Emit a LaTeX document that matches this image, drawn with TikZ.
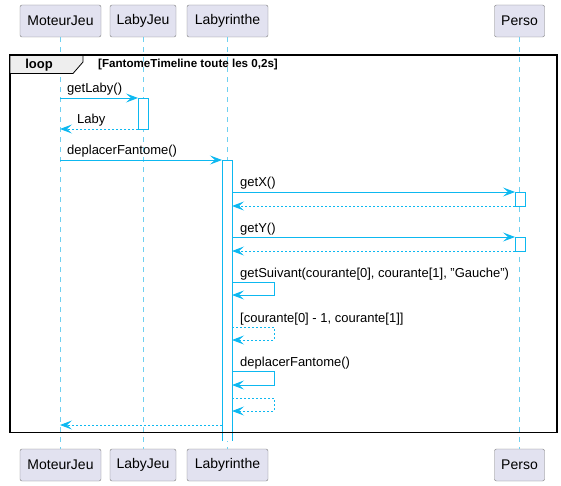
\documentclass[tikz,border=0pt]{standalone}
\usepackage{fontspec}
\setmainfont{Liberation Sans}
\usetikzlibrary{arrows.meta}
\definecolor{msgc}{HTML}{0DB8F0}
\definecolor{lifec}{HTML}{6FD0F0}
\definecolor{partfill}{HTML}{E2E2F0}
\definecolor{partdraw}{HTML}{7A7A7A}
\definecolor{tabfill}{HTML}{EEEEEE}
\tikzset{
  part/.style={draw=partdraw, fill=partfill, rounded corners=2pt, minimum height=32pt,
    inner sep=0pt, font=\fontsize{14}{16}\selectfont},
  msgline/.style={draw=msgc, line width=0.9pt, -{Stealth[length=12pt,width=9pt,inset=5pt]}},
  retline/.style={msgline, dash pattern=on 2pt off 2pt},
  act/.style={draw=msgc, fill=white, line width=0.9pt},
  lbl/.style={font=\fontsize{13}{15}\selectfont, anchor=base west, inner sep=0pt},
  life/.style={draw=lifec, dash pattern=on 5pt off 5pt, line width=0.6pt},
}
\begin{document}
\begin{tikzpicture}[x=1pt, y=-1pt]
\useasboundingbox (0,0) rectangle (561,486);

% participants, top and bottom
\node[part, minimum width=81pt] (mjT) at (60.5,21) {MoteurJeu};
\node[part, minimum width=66pt] (ljT) at (143,21) {LabyJeu};
\node[part, minimum width=81pt] (lbT) at (227.5,21) {Labyrinthe};
\node[part, minimum width=50pt] (peT) at (519.5,21) {Perso};
\node[part, minimum width=81pt] (mjB) at (60.5,465) {MoteurJeu};
\node[part, minimum width=66pt] (ljB) at (143,465) {LabyJeu};
\node[part, minimum width=81pt] (lbB) at (227.5,465) {Labyrinthe};
\node[part, minimum width=50pt] (peB) at (519.5,465) {Perso};

% lifelines
\draw[life] (mjT.south) -- (mjB.north);
\draw[life] (ljT.south) -- (ljB.north);
\draw[life] (lbT.south) -- (lbB.north);
\draw[life] (peT.south) -- (peB.north);

% activation bars
\draw[act] (138,98) rectangle (148,129);
\fill[white] (222,160) rectangle (232,441);
\draw[act] (222,441) -- (222,160) -- (232,160) -- (232,441);
\draw[act] (515,192) rectangle (525,206);
\draw[act] (515,237) rectangle (525,251);

% loop frame
\draw[line width=1.5pt] (10,55) rectangle (557,432.5);
\draw[fill=tabfill, line width=0.8pt] (10,55) -- (83,55) -- (83,62) -- (73,73.5) -- (10,73.5) -- cycle;
\draw[line width=1.5pt] (10,55) -- (557,55);
\node[font=\bfseries\fontsize{13}{15}\selectfont, inner sep=0pt] (looplbl) at (39,65.5) {loop};
\node[font=\bfseries\fontsize{11.6}{13}\selectfont, anchor=west, inner sep=0pt] (loopcond) at (98,64.5) {[FantomeTimeline toute les 0,2s]};

% message end points
\coordinate (m1a) at (60,98);   \coordinate (m1b) at (138,98);
\coordinate (r1a) at (138,129); \coordinate (r1b) at (60,129);
\coordinate (m2a) at (60,160);  \coordinate (m2b) at (222,160);
\coordinate (m3a) at (232,192); \coordinate (m3b) at (515,192);
\coordinate (r3a) at (515,206); \coordinate (r3b) at (232,206);
\coordinate (m4a) at (232,237); \coordinate (m4b) at (515,237);
\coordinate (r4a) at (515,251); \coordinate (r4b) at (232,251);
\coordinate (s1a) at (232,282); \coordinate (s1b) at (232,295);
\coordinate (s2a) at (232,327); \coordinate (s2b) at (232,340);
\coordinate (s3a) at (232,371); \coordinate (s3b) at (232,385);
\coordinate (s4a) at (232,398); \coordinate (s4b) at (232,411);
\coordinate (r2a) at (222,425); \coordinate (r2b) at (60,425);

% messages
\draw[msgline] (m1a) -- (m1b);
\node[lbl] (t1) at (67,93) {getLaby()};
\draw[retline] (r1a) -- (r1b);
\node[lbl] (t2) at (77,124) {Laby};
\draw[msgline] (m2a) -- (m2b);
\node[lbl] (t3) at (67,155) {deplacerFantome()};
\draw[msgline] (m3a) -- (m3b);
\node[lbl] (t4) at (240,187) {getX()};
\draw[retline] (r3a) -- (r3b);
\draw[msgline] (m4a) -- (m4b);
\node[lbl] (t5) at (240,232) {getY()};
\draw[retline] (r4a) -- (r4b);
\draw[msgline] (s1a) -- ++(42,0) |- (s1b);
\node[lbl] (t6) at (240,277) {getSuivant(courante[0], courante[1], "Gauche")};
\draw[retline] (s2a) -- ++(42,0) |- (s2b);
\node[lbl] (t7) at (240,322) {[courante[0] - 1, courante[1]]};
\draw[msgline] (s3a) -- ++(42,0) |- (s3b);
\node[lbl] (t8) at (240,366) {deplacerFantome()};
\draw[retline] (s4a) -- ++(42,0) |- (s4b);
\draw[retline] (r2a) -- (r2b);
\end{tikzpicture}
\end{document}
